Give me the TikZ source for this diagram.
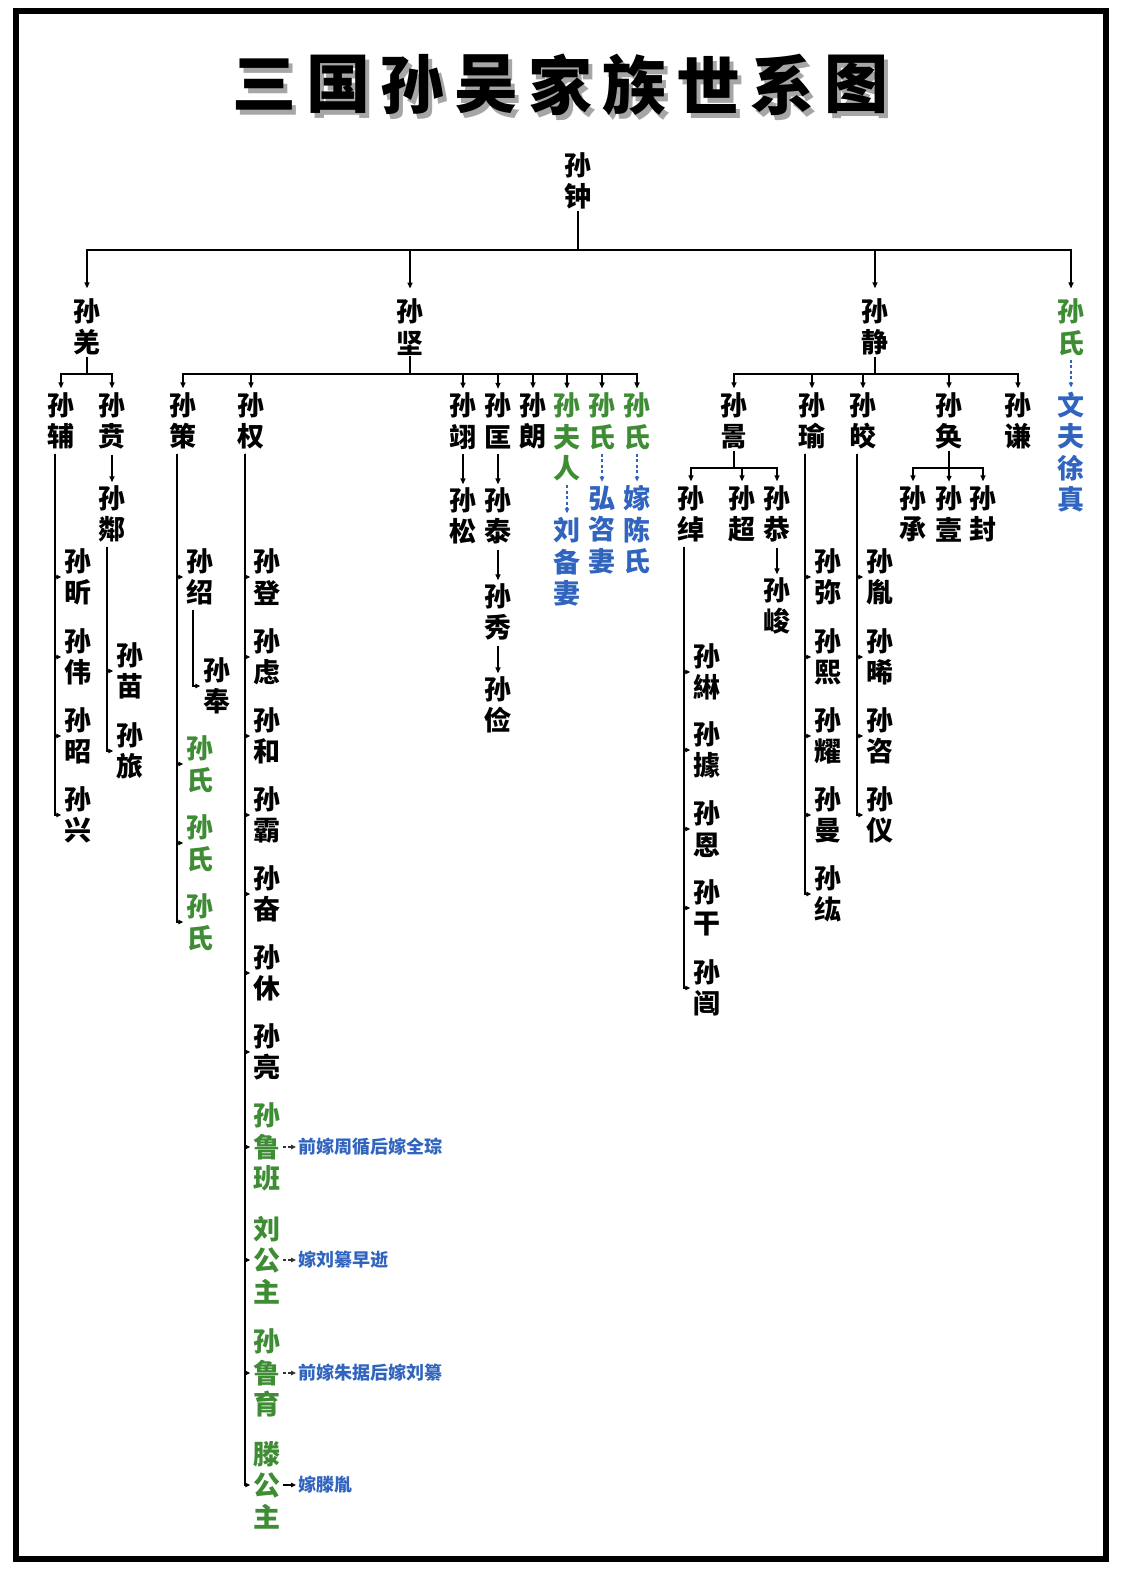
\documentclass[tikz,border=0pt]{standalone}
\usepackage{fontspec}
\newfontfamily\cjk{Noto Sans CJK SC}
\usetikzlibrary{arrows.meta}
\definecolor{wgreen}{RGB}{62,140,52}
\definecolor{wblue}{RGB}{48,100,190}
\begin{document}
\begin{tikzpicture}[x=1pt,y=-1pt]

\newcommand{\nmfont}{\cjk\bfseries\fontsize{27}{31.5}\selectfont}
\newcommand{\titleshadow}[1]{\makebox[0pt][l]{\kern4pt\raisebox{-5pt}{\textcolor{black!35}{#1}}}#1}
\tikzstyle{person}=[font=\nmfont, align=center, inner sep=1pt]
\tikzstyle{girl}=[person, text=wgreen]
\tikzstyle{spouse}=[person, text=wblue]
\tikzstyle{note}=[font=\cjk\bfseries\fontsize{18}{20}\selectfont, text=wblue, inner sep=1pt, anchor=west]
\tikzstyle{bar}=[draw=black, line width=1.4pt]
\tikzstyle{drop}=[bar, -{Triangle[length=6pt,width=5pt]}, shorten >=3pt]
\tikzstyle{droptop}=[drop, shorten >=9pt]
\tikzstyle{chain}=[drop, shorten <=4pt, shorten >=2pt]
\tikzstyle{rung}=[bar, -{Triangle[length=5pt,width=4.5pt]}, shorten <=3pt, shorten >=2pt]
\tikzstyle{wed}=[draw=wblue, line width=1.3pt, dash pattern=on 3pt off 2.5pt, -{Triangle[length=5pt,width=4.5pt]}, shorten <=3pt, shorten >=3pt]

  \useasboundingbox (0,0) rectangle (1125,1573);
  \draw[line width=6pt] (16,11) rectangle (1106,1559);

  \foreach \c [count=\i] in {三,国,孙,吴,家,族,世,系,图}
    \node[font=\cjk\bfseries\fontsize{64}{70}\selectfont, inner sep=0pt] (t\i) at (190+74*\i,87) {\titleshadow{\c}};

  \node[person] (zhong) at (578,181) {孙\\钟};
  \node[person] (qiang) at (87,327) {孙\\羌};
  \node[person] (jian) at (410,327) {孙\\坚};
  \node[person] (jing) at (875,327) {孙\\静};
  \node[girl] (shiA) at (1071,327) {孙\\氏};
  \node[spouse] (xuzhen) at (1071,452) {文\\夫\\徐\\真};

  \draw[bar] (zhong) -- (zhong |- 0,250) coordinate (zb);
  \foreach \c in {qiang,jian,jing,shiA} \draw[droptop] (zb) -| (\c);
  \draw[wed] (shiA) -- (xuzhen);

  % Sun Qiang
  \node[person] (fu) at (61,421) {孙\\辅};
  \node[person] (ben) at (112,421) {孙\\贲};
  \node[person] (lin) at (112,514) {孙\\鄰};
  \draw[bar] (qiang) -- (qiang |- 0,374) coordinate (qb);
  \foreach \c in {fu,ben} \draw[drop] (qb) -| (\c);
  \draw[chain] (ben) -- (lin);
  \foreach \n/\c/\y in {xin/昕/577,wei/伟/657,zhao/昭/736,xing/兴/815}{
    \node[person] (\n) at (78,\y) {孙\\\c};
    \draw[rung] ([xshift=-6pt]fu.south) |- (\n);
  }
  \foreach \n/\c/\y in {miao/苗/671,lv/旅/751}{
    \node[person] (\n) at (130,\y) {孙\\\c};
    \draw[rung] ([xshift=-5pt]lin.south) |- (\n);
  }

  % Sun Jian
  \node[person] (ce) at (183,421) {孙\\策};
  \node[person] (quan) at (251,421) {孙\\权};
  \node[person] (yi) at (463,421) {孙\\翊};
  \node[person] (kuang) at (498,421) {孙\\匡};
  \node[person] (lang) at (533,421) {孙\\朗};
  \node[girl] (furen) at (567,437) {孙\\夫\\人};
  \node[girl] (shiB) at (602,421) {孙\\氏};
  \node[girl] (shiC) at (637,421) {孙\\氏};
  \draw[bar] (jian) -- (jian |- 0,374) coordinate (jb);
  \foreach \c in {ce,quan,yi,kuang,lang,furen,shiB,shiC} \draw[drop] (jb) -| (\c);

  \node[person] (song) at (463,516) {孙\\松};
  \node[person] (tai) at (498,516) {孙\\泰};
  \node[person] (xiu) at (498,612) {孙\\秀};
  \node[person] (jian2) at (498,705) {孙\\俭};
  \draw[chain] (yi) -- (song);
  \draw[chain] (kuang) -- (tai);
  \draw[chain] (tai) -- (xiu);
  \draw[chain] (xiu) -- (jian2);

  \node[spouse] (beiqi) at (567,562) {刘\\备\\妻};
  \node[spouse] (hongzi) at (602,530) {弘\\咨\\妻};
  \node[spouse] (chenshi) at (637,530) {嫁\\陈\\氏};
  \draw[wed] (furen) -- (beiqi);
  \draw[wed] (shiB) -- (hongzi);
  \draw[wed] (shiC) -- (chenshi);

  \node[person] (shao) at (200,577) {孙\\绍};
  \node[person] (feng) at (217,686) {孙\\奉};
  \node[girl] (shiD) at (200,764) {孙\\氏};
  \node[girl] (shiE) at (200,843) {孙\\氏};
  \node[girl] (shiF) at (200,922) {孙\\氏};
  \foreach \c in {shao,shiD,shiE,shiF} \draw[rung] ([xshift=-6pt]ce.south) |- (\c);
  \draw[rung] ([xshift=-7pt]shao.south) |- (feng);

  \foreach \n/\c/\y in {deng/登/577,lvq/虑/657,he/和/736,ba/霸/815,fen/奋/894,xiu2/休/973,liang/亮/1052}
    \node[person] (\n) at (267,\y) {孙\\\c};
  \node[girl] (luban) at (267,1147) {孙\\鲁\\班};
  \node[girl] (liugz) at (267,1260) {刘\\公\\主};
  \node[girl] (luyu) at (267,1373) {孙\\鲁\\育};
  \node[girl] (tenggz) at (267,1485) {滕\\公\\主};
  \foreach \c in {deng,lvq,he,ba,fen,xiu2,liang,luban,liugz,luyu,tenggz}
    \draw[rung] ([xshift=-6pt]quan.south) |- (\c);

  \node[note] (noteA) at (297,1147) {前嫁周循后嫁全琮};
  \node[note] (noteB) at (297,1260) {嫁刘纂早逝};
  \node[note] (noteC) at (297,1373) {前嫁朱据后嫁刘纂};
  \node[note] (noteD) at (297,1485) {嫁滕胤};
  \draw[wed, draw=black!80, shorten <=1pt, shorten >=1pt] (luban) -- (noteA);
  \draw[wed, draw=black!80, shorten <=1pt, shorten >=1pt] (liugz) -- (noteB);
  \draw[wed, draw=black!80, shorten <=1pt, shorten >=1pt] (luyu) -- (noteC);
  \draw[rung, shorten <=1pt, shorten >=1pt] (tenggz) -- (noteD);

  % Sun Jing
  \node[person] (hao) at (734,421) {孙\\暠};
  \node[person] (yu) at (812,421) {孙\\瑜};
  \node[person] (jiao) at (863,421) {孙\\皎};
  \node[person] (huan) at (949,421) {孙\\奂};
  \node[person] (qian) at (1018,421) {孙\\谦};
  \draw[bar] (jing) -- (jing |- 0,374) coordinate (gb);
  \foreach \c in {hao,yu,jiao,huan,qian} \draw[drop] (gb) -| (\c);

  \node[person] (chuo) at (691,514) {孙\\绰};
  \node[person] (chao) at (742,514) {孙\\超};
  \node[person] (gong) at (777,514) {孙\\恭};
  \node[person] (jun) at (777,606) {孙\\峻};
  \draw[bar] (hao) -- (hao |- 0,468) coordinate (hb);
  \foreach \c in {chuo,chao,gong} \draw[drop] (hb) -| (\c);
  \draw[chain] (gong) -- (jun);

  \node[person] (cheng) at (913,514) {孙\\承};
  \node[person] (yi3) at (949,514) {孙\\壹};
  \node[person] (feng2) at (983,514) {孙\\封};
  \draw[bar] (huan) -- (huan |- 0,468) coordinate (ub);
  \foreach \c in {cheng,yi3,feng2} \draw[drop] (ub) -| (\c);

  \foreach \n/\c/\y in {lin2/綝/672,ju/據/750,en/恩/829,gan/干/908,kai/闿/988}{
    \node[person] (\n) at (707,\y) {孙\\\c};
    \draw[rung] ([xshift=-7pt]chuo.south) |- (\n);
  }
  \foreach \n/\c/\y in {mi/弥/577,xi/熙/657,yao/耀/736,man/曼/815,hong/纮/894}{
    \node[person] (\n) at (828,\y) {孙\\\c};
    \draw[rung] ([xshift=-7pt]yu.south) |- (\n);
  }
  \foreach \n/\c/\y in {yin/胤/577,xi2/晞/657,zi/咨/736,yi2/仪/815}{
    \node[person] (\n) at (880,\y) {孙\\\c};
    \draw[rung] ([xshift=-6pt]jiao.south) |- (\n);
  }

\end{tikzpicture}
\end{document}
